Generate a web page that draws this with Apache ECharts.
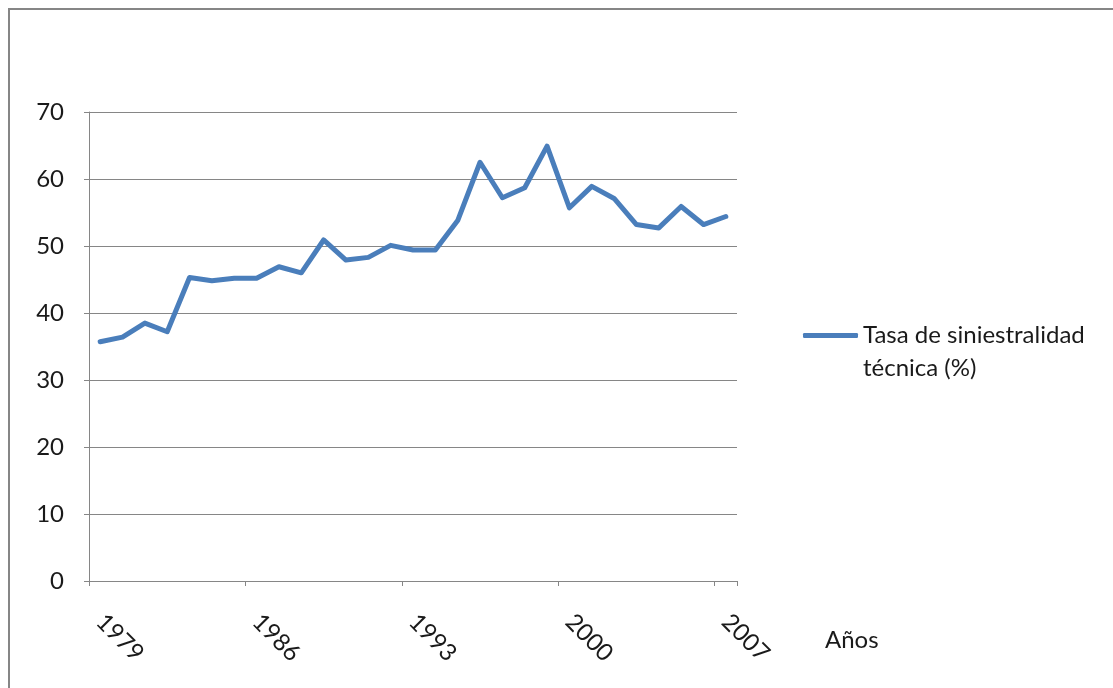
<!DOCTYPE html>
<html>
<head>
<meta charset="utf-8">
<script src="https://cdn.jsdelivr.net/npm/echarts@6/dist/echarts.min.js"></script>
<style>
  html, body { margin: 0; padding: 0; background: #fff; }
  #chart { width: 1113px; height: 688px; }
</style>
</head>
<body>
<div id="chart"></div>
<script>
// Años 1979–2007
const years = ['1979','1980','1981','1982','1983','1984','1985','1986','1987','1988',
  '1989','1990','1991','1992','1993','1994','1995','1996','1997','1998',
  '1999','2000','2001','2002','2003','2004','2005','2006','2007'];

// Tasa de siniestralidad técnica (%)
const tasa = [35.7, 36.4, 38.5, 37.2, 45.3, 44.8, 45.2, 45.2, 46.9, 46.0,
  50.9, 47.9, 48.3, 50.1, 49.4, 49.4, 53.8, 62.5, 57.2, 58.7,
  64.9, 55.7, 58.9, 57.1, 53.2, 52.7, 55.9, 53.2, 54.4];

const seriesName = 'Tasa de siniestralidad técnica (%)';
const xAxisTitle = 'Años';

const FONT = 'Lato, "Liberation Sans", sans-serif';
const FS = 24;
const GRAY = '#868686';
const TEXT = '#1a1a1a';
const BLUE = '#4a7ebb';

const chart = echarts.init(document.getElementById('chart'), null, { renderer: 'canvas' });

chart.setOption({
  animation: false,
  backgroundColor: '#fff',
  textStyle: { fontFamily: FONT },
  grid: { left: 89, top: 112, right: 376, bottom: 107, containLabel: false },
  xAxis: {
    type: 'category',
    data: years,
    boundaryGap: true,
    axisLine: { lineStyle: { color: GRAY, width: 1 } },
    axisTick: { show: true, interval: 6, length: 5, lineStyle: { color: GRAY } },
    axisLabel: {
      interval: 6, rotate: -45, margin: 37,
      color: TEXT, fontSize: FS, fontFamily: FONT
    },
    splitLine: { show: false }
  },
  yAxis: {
    type: 'value',
    min: 0, max: 70, interval: 10,
    axisLine: { show: true, lineStyle: { color: GRAY, width: 1 } },
    axisTick: { show: true, length: 5, lineStyle: { color: GRAY } },
    axisLabel: { margin: 25, color: TEXT, fontSize: FS, fontFamily: FONT },
    splitLine: { show: true, lineStyle: { color: GRAY, width: 1 } }
  },
  legend: {
    show: true,
    left: 803, top: 286,
    padding: 0,
    orient: 'vertical',
    itemWidth: 55, itemHeight: 5, itemGap: 6,
    data: [{ name: seriesName, icon: 'roundRect' }],
    itemStyle: { color: BLUE },
    // leading blank line keeps the first text line level with the legend line
    formatter: function () { return '\nTasa de siniestralidad\ntécnica (%)'; },
    textStyle: { color: TEXT, fontSize: FS, fontFamily: FONT, lineHeight: 33 }
  },
  graphic: [
    {
      type: 'rect', silent: true,
      shape: { x: 9, y: 9, width: 1300, height: 900 },
      style: { fill: 'none', stroke: GRAY, lineWidth: 2 }
    },
    {
      type: 'text', silent: true, left: 825, top: 628,
      style: { text: xAxisTitle, fill: TEXT, font: FS + 'px ' + FONT }
    }
  ],
  series: [{
    name: seriesName,
    type: 'line',
    data: tasa,
    showSymbol: false,
    symbol: 'none',
    lineStyle: { color: BLUE, width: 5, join: 'round', cap: 'round' },
    itemStyle: { color: BLUE }
  }]
});
</script>
</body>
</html>
